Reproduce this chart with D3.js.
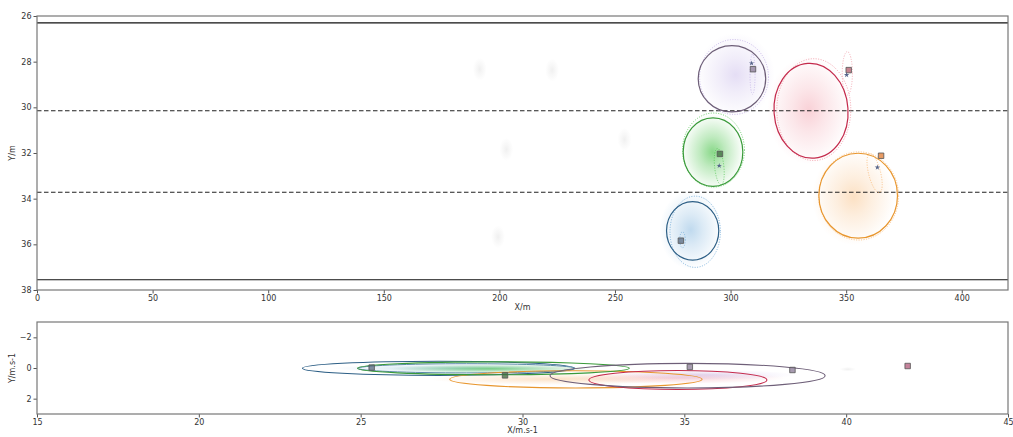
<!DOCTYPE html>
<html><head><meta charset="utf-8">
<script src="https://cdn.jsdelivr.net/npm/d3@7"></script>
<style>body{margin:0;background:#fff}svg{display:block}</style></head>
<body><svg id="c" width="1013" height="437"></svg>
<script>
// ---------- data ----------
const vehicles = ["blue","orange","green","red","purple"];
const lineColor = ["#2d5f86","#e8962e","#3a9a3a","#c42a4c","#6e5f78"];
const cloudColor = ["#4f97d0","#f6aa5a","#3cbf3c","#ee8090","#b6a2e2"];
const markColor = ["#5a6a80","#e07a30","#3d6a3d","#b25a6a","#8a7a96"];

// top panel (position, m)
const topXTicks = [0,50,100,150,200,250,300,350,400];
const topYTicks = [26,28,30,32,34,36,38];
const laneSolid = [26.3, 37.55];
const laneDashed = [30.15, 33.72];

const posCx  = [283.6, 355.2, 292.4, 334.8, 300.6];
const posCy  = [35.41, 33.87, 31.96, 30.15, 28.75];
const posRx  = [11.3, 17.0, 12.9, 16.0, 14.6];
const posRy  = [1.28, 1.86, 1.50, 2.08, 1.45];
const posAng = [0, 0, 0, -4, 0];

const priorCx = [284.7, 355.4, 292.6, 336.0, 301.5];
const priorCy = [35.45, 33.88, 31.87, 30.10, 28.67];
const priorRx = [10.9, 17.3, 13.4, 16.0, 14.9];
const priorRy = [1.56, 1.93, 1.62, 2.23, 1.64];

const measCx = [279.2, 362.3, 295.1, 350.5, 309.5];
const measCy = [35.80, 32.88, 32.60, 28.51, 28.55];
const measRx = [1.2, 2.6, 2.0, 2.2, 1.1];
const measRy = [0.35, 0.88, 0.80, 0.95, 0.88];
const measAng = [0, -14, -6, 0, 0];

const truthX = [278.5, 365.1, 295.4, 351.1, 309.7];
const truthY = [35.84, 32.12, 32.04, 28.37, 28.33];
const obsX = [null, 363.5, 295.1, 350.2, 309.1];
const obsY = [null, 32.63, 32.56, 28.58, 28.07];

const cloudCx = [282.7, 353.2, 292.2, 333.8, 302.2];
const cloudCy = [35.37, 33.93, 31.96, 30.12, 28.58];
const cloudSx = [9.0, 12.0, 9.0, 12.0, 11.3];
const cloudSy = [1.15, 1.40, 1.10, 1.58, 1.23];

const ghostX = [222.8, 191.5, 203.0, 254.1, 199.4];
const ghostY = [28.37, 28.33, 31.84, 31.40, 35.67];

// bottom panel (velocity, m/s)
const botXTicks = [15,20,25,30,35,40,45];
const botYTicks = [-2,0,2];
const velCx = [27.4, 31.65, 29.1, 34.8, 35.1];
const velCy = [0.02, 0.74, 0.02, 0.78, 0.50];
const velRx = [4.2, 3.9, 4.2, 2.75, 4.25];
const velRy = [0.46, 0.56, 0.42, 0.62, 0.80];
const velInCx = [28.27, null, null, null, null];
const velInRx = [3.35, null, null, null, null];
const velInRy = [0.30, null, null, null, null];

const vCloudCx = [28.0, 31.0, 29.0, 34.8, 35.6];
const vCloudCy = [0.02, 0.72, 0.05, 0.65, 0.45];
const vCloudSx = [3.0, 3.0, 2.4, 2.6, 2.2];
const vCloudSy = [0.22, 0.30, 0.22, 0.30, 0.26];

const vTruthX = [25.34, 29.46, 35.17, 38.34, 41.9];
const vTruthY = [-0.03, 0.48, -0.07, 0.13, -0.13];
const vTruthC = ["#5a6a80","#3d6a3d","#8a7a96","#8a7a96","#b25a7a"];
const vGhostX = [40.05];
const vGhostY = [0.08];

// ---------- drawing ----------
const svg = d3.select("#c");
const font = "DejaVu Sans, sans-serif";
const defs = svg.append("defs");

function grad(id, col, a0) {
  const g = defs.append("radialGradient").attr("id", id);
  g.append("stop").attr("offset","0%").attr("stop-color",col).attr("stop-opacity",a0);
  g.append("stop").attr("offset","40%").attr("stop-color",col).attr("stop-opacity",a0*0.55);
  g.append("stop").attr("offset","100%").attr("stop-color",col).attr("stop-opacity",0);
}
vehicles.forEach((v,i)=>grad("cg"+i, cloudColor[i], i===2?0.6:0.36));
grad("ghost", "#a0a0a0", 0.16);

const L = 37, R = 1008;
const topS = {x: d3.scaleLinear().domain([0,420]).range([L,R]),
             y: d3.scaleLinear().domain([26,38]).range([16,290])};
const botS = {x: d3.scaleLinear().domain([15,45]).range([L,R]),
             y: d3.scaleLinear().domain([-3,3]).range([322,414])};

function clip(id, s) {
  defs.append("clipPath").attr("id", id).append("rect")
    .attr("x", s.x.range()[0]).attr("y", s.y.range()[0])
    .attr("width", s.x.range()[1]-s.x.range()[0]).attr("height", s.y.range()[1]-s.y.range()[0]);
}
clip("clipTop", topS); clip("clipBot", botS);

function ell(g, s, cx, cy, rx, ry, ang) {
  const px = s.x(cx), py = s.y(cy);
  return g.append("ellipse").attr("cx", px).attr("cy", py)
    .attr("rx", Math.abs(s.x(cx+rx)-px)).attr("ry", Math.abs(s.y(cy+ry)-py))
    .attr("transform", `rotate(${ang||0},${px},${py})`);
}

function axes(s, xt, yt, xlab, ylab, xlabY, ylabY) {
  const gx = svg.append("g").attr("transform", `translate(0,${s.y.range()[1]})`)
    .call(d3.axisBottom(s.x).tickValues(xt).tickSize(3.5).tickPadding(2).tickFormat(d3.format("d")));
  const gy = svg.append("g").attr("transform", `translate(${L},0)`)
    .call(d3.axisLeft(s.y).tickValues(yt).tickSize(3.5).tickPadding(2).tickFormat(d=>d<0?"\u2212"+(-d):d));
  [gx,gy].forEach(g=>{
    g.select(".domain").remove();
    g.selectAll("line").attr("stroke","#555");
    g.selectAll("text").attr("font-family",font).attr("font-size",8).attr("fill","#333");
  });
  svg.append("rect").attr("x",L).attr("y",s.y.range()[0]).attr("width",R-L)
    .attr("height",s.y.range()[1]-s.y.range()[0]).attr("fill","none").attr("stroke","#777").attr("stroke-width",1.2);
  svg.append("text").attr("x",(L+R)/2).attr("y",xlabY).attr("text-anchor","middle")
    .attr("font-family",font).attr("font-size",8).attr("fill","#333").text(xlab);
  svg.append("text").attr("transform",`translate(15,${ylabY}) rotate(-90)`).attr("text-anchor","middle")
    .attr("font-family",font).attr("font-size",8).attr("fill","#333").text(ylab);
}

// ----- top panel -----
const gt = svg.append("g").attr("clip-path","url(#clipTop)");
ghostX.forEach((gx,i)=>ell(gt, topS, gx, ghostY[i], 3.0, 0.5, 0).attr("fill","url(#ghost)"));
vehicles.forEach((v,i)=>{
  ell(gt, topS, cloudCx[i], cloudCy[i], cloudSx[i]*1.5, cloudSy[i]*1.5, 0).attr("fill",`url(#cg${i})`);
});
laneSolid.forEach(v=>gt.append("line").attr("x1",L).attr("x2",R).attr("y1",topS.y(v)).attr("y2",topS.y(v))
  .attr("stroke","#111").attr("stroke-width",1.2));
laneDashed.forEach(v=>gt.append("line").attr("x1",L).attr("x2",R).attr("y1",topS.y(v)).attr("y2",topS.y(v))
  .attr("stroke","#222").attr("stroke-width",1.2).attr("stroke-dasharray","4.5,2.5"));
vehicles.forEach((v,i)=>{
  ell(gt, topS, priorCx[i], priorCy[i], priorRx[i], priorRy[i], 0)
    .attr("fill","none").attr("stroke",cloudColor[i]).attr("stroke-width",0.9).attr("stroke-dasharray","1,1.5").attr("opacity",0.8);
  ell(gt, topS, measCx[i], measCy[i], measRx[i], measRy[i], measAng[i])
    .attr("fill","none").attr("stroke",cloudColor[i]).attr("stroke-width",0.8).attr("stroke-dasharray","1,1.5").attr("opacity",0.8);
  ell(gt, topS, posCx[i], posCy[i], posRx[i], posRy[i], posAng[i])
    .attr("fill","none").attr("stroke",lineColor[i]).attr("stroke-width",1.2);
});
const sq = d3.symbol().type(d3.symbolSquare).size(30);
const st = d3.symbol().type(d3.symbolStar).size(9);
vehicles.forEach((v,i)=>{
  gt.append("path").attr("d",sq).attr("transform",`translate(${topS.x(truthX[i])},${topS.y(truthY[i])})`)
    .attr("fill",markColor[i]).attr("fill-opacity",0.75).attr("stroke","#555").attr("stroke-width",0.8);
  if (obsX[i]!==null) gt.append("path").attr("d",st)
    .attr("transform",`translate(${topS.x(obsX[i])},${topS.y(obsY[i])})`).attr("fill","#56648a");
});
axes(topS, topXTicks, topYTicks, "X/m", "Y/m", 310, 153);

// ----- bottom panel -----
const gb = svg.append("g").attr("clip-path","url(#clipBot)");
vGhostX.forEach((gx,i)=>ell(gb, botS, gx, vGhostY[i], 0.25, 0.15, 0).attr("fill","url(#ghost)"));
vehicles.forEach((v,i)=>{
  ell(gb, botS, vCloudCx[i], vCloudCy[i], vCloudSx[i]*1.3, vCloudSy[i]*1.3, 0).attr("fill",`url(#cg${i})`);
});
vehicles.forEach((v,i)=>{
  ell(gb, botS, velCx[i], velCy[i], velRx[i], velRy[i], 0)
    .attr("fill","none").attr("stroke",lineColor[i]).attr("stroke-width",1.1);
  if (velInCx[i]!==null) ell(gb, botS, velInCx[i], velCy[i], velInRx[i], velInRy[i], 0)
    .attr("fill","none").attr("stroke","#5a8aa8").attr("stroke-width",1);
});
vTruthX.forEach((vx,i)=>{
  gb.append("path").attr("d",sq).attr("transform",`translate(${botS.x(vx)},${botS.y(vTruthY[i])})`)
    .attr("fill",vTruthC[i]).attr("fill-opacity",0.75).attr("stroke","#555").attr("stroke-width",0.8);
});
axes(botS, botXTicks, botYTicks, "X/m.s-1", "Y/m.s-1", 433, 368);
</script></body></html>
